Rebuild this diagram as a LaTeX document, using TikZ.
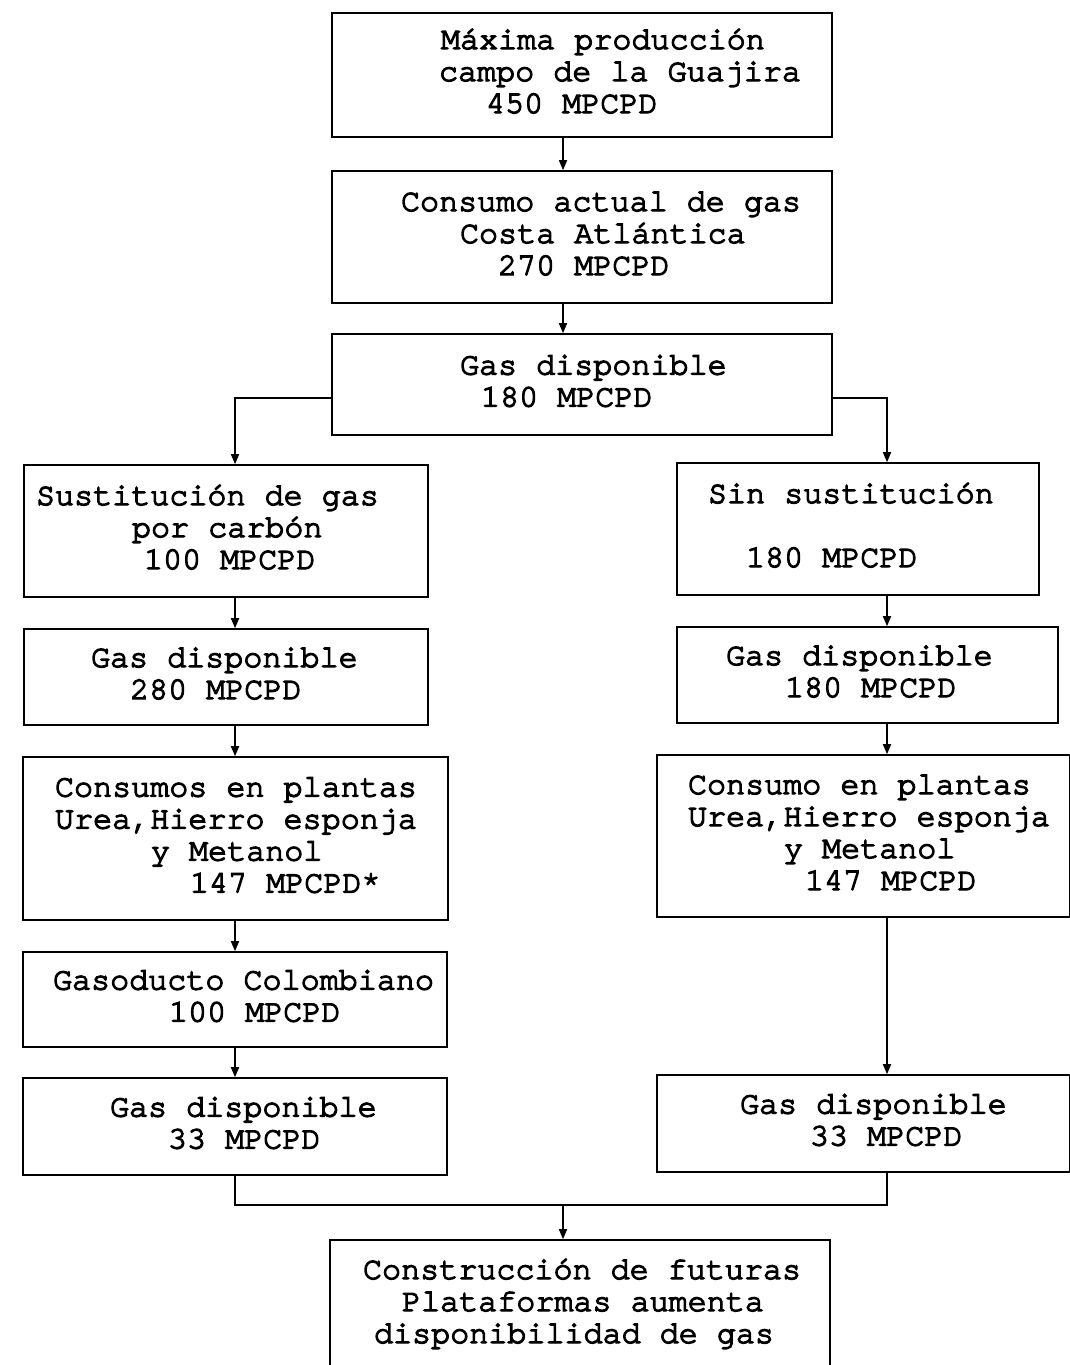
\documentclass[tikz,border=0pt]{standalone}
\usepackage{fontspec}
\newfontfamily\typewr[FakeBold=4]{texgyrecursor-regular.otf}
\usetikzlibrary{arrows.meta}

% one line of a box: fixed strut, then the left offset in pt
\newcommand{\ind}[1]{\rule[-10pt]{0pt}{32pt}\hspace*{#1pt}}

\tikzset{
    cell/.style 2 args={draw, rectangle, line width=1.6pt, inner sep=0pt,
        text width=#1, minimum height=#2, align=left,
        font=\typewr\fontsize{31.75}{32}\selectfont,
        execute at begin node={\lineskiplimit=-50pt\spaceskip=19.05pt\relax}},
    link/.style={line width=1.6pt},
    arr/.style={line width=1.6pt, -{Triangle[length=10pt,width=8pt]}}
}

\begin{document}
\begin{tikzpicture}[x=1pt, y=-1pt]
        \useasboundingbox (0,0) rectangle (1069,1365);

        \coordinate (xm) at (563, 0);
        \coordinate (xl) at (235, 0);
        \coordinate (xr) at (887, 0);
        \coordinate (ysplit) at (0, 398);
        \coordinate (ymerge) at (0, 1205);

        % central column
        \node[cell={500pt}{124pt}] (prod) at (582, 75)
            {\ind{109}Máxima producción\\\ind{107}campo de la Guajira\\\ind{154}450 MPCPD};
        \node[cell={500pt}{132pt}] (cons) at (582, 237)
            {\ind{69}Consumo actual de gas\\\ind{128}Costa Atlántica\\\ind{166}270 MPCPD};
        \node[cell={500pt}{101pt}] (disp) at (582, 384.5)
            {\ind{128}Gas disponible\\\ind{149}180 MPCPD};

        % left branch
        \node[cell={404pt}{132pt}] (sust) at (226, 531)
            {\ind{12}Sustitución de gas\\\ind{108}por carbón\\\ind{120}100 MPCPD};
        \node[cell={404pt}{96pt}] (dispL) at (226, 677)
            {\ind{67}Gas disponible\\\ind{106}280 MPCPD};
        \node[cell={425pt}{163pt}] (plantL) at (235.5, 838.5)
            {\ind{32}Consumos en plantas\\\ind{32}Urea,Hierro esponja\\\ind{128}y Metanol\\\ind{167}147 MPCPD*};
        \node[cell={424pt}{95pt}] (gasod) at (235, 999.5)
            {\ind{30}Gasoducto Colombiano\\\ind{146}100 MPCPD};
        \node[cell={424pt}{97pt}] (restL) at (235, 1126.5)
            {\ind{87}Gas disponible\\\ind{145}33 MPCPD};

        % right branch
        \node[cell={362pt}{132pt}] (sinsust) at (858, 529)
            {\ind{31}Sin sustitución\\\ind{0}\\\ind{69}180 MPCPD};
        \node[cell={381pt}{96pt}] (dispR) at (867.5, 675)
            {\ind{49}Gas disponible\\\ind{108}180 MPCPD};
        \node[cell={413pt}{162pt}] (plantR) at (863.5, 836)
            {\ind{31}Consumo en plantas\\\ind{31}Urea,Hierro esponja\\\ind{127}y Metanol\\\ind{148}147 MPCPD};
        \node[cell={413pt}{97pt}] (restR) at (863.5, 1123.5)
            {\ind{83}Gas disponible\\\ind{153}33 MPCPD};

        % bottom
        \node[cell={500pt}{130pt}] (futur) at (580, 1305)
            {\ind{33}Construcción de futuras\\\ind{72}Plataformas aumenta\\\ind{44}disponibilidad de gas};

        \draw[arr] (prod.south -| xm) -- (cons.north -| xm);
        \draw[arr] (cons.south -| xm) -- (disp.north -| xm);
        \draw[arr] (disp.west |- ysplit) -| (sust.north -| xl);
        \draw[arr] (disp.east |- ysplit) -| (sinsust.north -| xr);

        \draw[arr] (sust.south -| xl) -- (dispL.north -| xl);
        \draw[arr] (dispL.south -| xl) -- (plantL.north -| xl);
        \draw[arr] (plantL.south -| xl) -- (gasod.north -| xl);
        \draw[arr] (gasod.south -| xl) -- (restL.north -| xl);

        \draw[arr] (sinsust.south -| xr) -- (dispR.north -| xr);
        \draw[arr] (dispR.south -| xr) -- (plantR.north -| xr);
        \draw[arr] (plantR.south -| xr) -- (restR.north -| xr);

        \draw[link] (restL.south -| xl) -- (xl |- ymerge) -- (xr |- ymerge) -- (restR.south -| xr);
        \draw[arr] (xm |- ymerge) -- (futur.north -| xm);

    \end{tikzpicture}
\end{document}
